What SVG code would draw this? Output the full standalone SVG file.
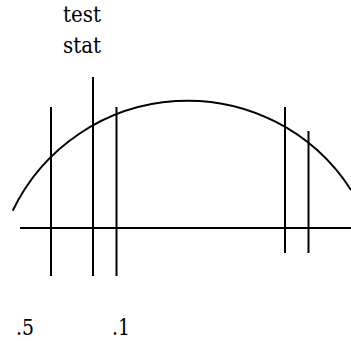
<svg xmlns="http://www.w3.org/2000/svg" width="351" height="341" viewBox="0 0 351 341">
<style>
.ln{stroke:#000;stroke-width:2;fill:none}
text{font-family:'DejaVu Serif',serif;font-size:22px;fill:#000}
</style>
<rect width="351" height="341" fill="#fff"/>
<g id="curve"><path class="ln" d="M 12.7 210.7 A 194.1 194.1 0 0 1 351 190"/></g>
<g id="axis"><line class="ln" x1="20" y1="228" x2="351" y2="228"/></g>
<g id="connectors">
<line class="ln" x1="51" y1="107" x2="51" y2="276"/>
<line class="ln" x1="93" y1="77" x2="93" y2="276"/>
<line class="ln" x1="116.5" y1="107" x2="116.5" y2="276"/>
<line class="ln" x1="285" y1="107" x2="285" y2="253"/>
<line class="ln" x1="308.5" y1="131" x2="308.5" y2="253"/>
</g>
<g id="labels">
<text x="82" y="22" text-anchor="middle" textLength="38" lengthAdjust="spacingAndGlyphs">test</text>
<text x="82" y="52.5" text-anchor="middle" textLength="38" lengthAdjust="spacingAndGlyphs">stat</text>
<text x="16" y="335" textLength="18" lengthAdjust="spacingAndGlyphs">.5</text>
<text x="112" y="335" textLength="18" lengthAdjust="spacingAndGlyphs">.1</text>
</g>
</svg>
